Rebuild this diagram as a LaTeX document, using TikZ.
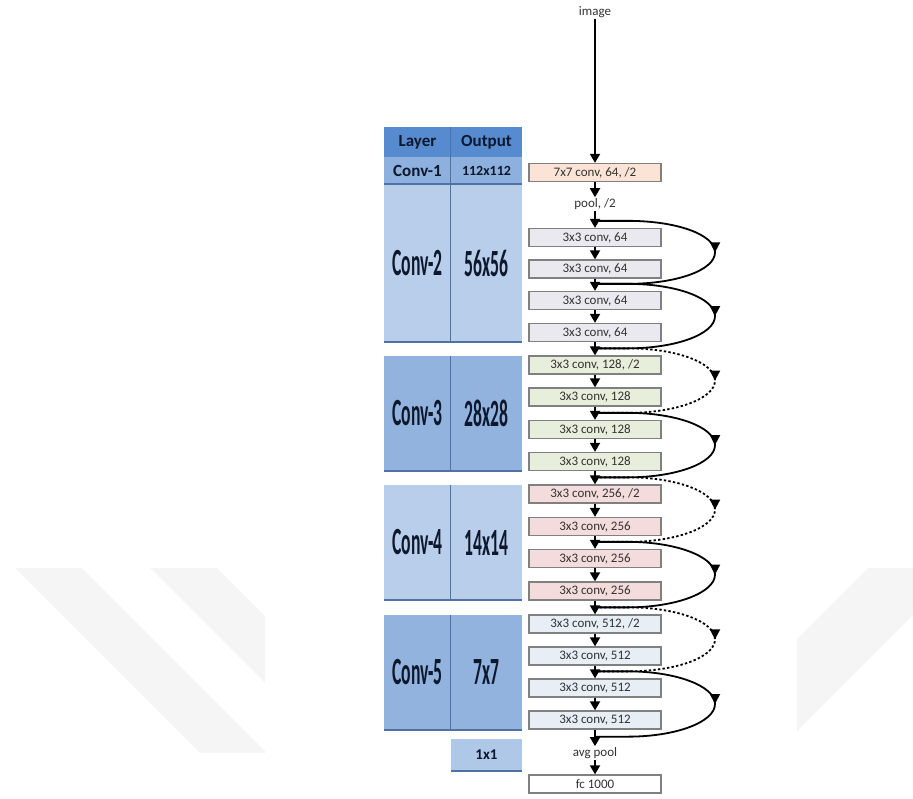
\documentclass[tikz,border=0pt]{standalone}
\usepackage{graphicx}
\usepackage{fontspec}
\setmainfont{Carlito}
\usetikzlibrary{arrows.meta, calc, decorations.markings}

\definecolor{hdrblue}{RGB}{86,139,208}
\definecolor{rowblue}{RGB}{141,176,222}
\definecolor{paleblue}{RGB}{184,206,235}
\definecolor{midblue}{RGB}{146,179,222}
\definecolor{unitblue}{RGB}{176,200,232}
\definecolor{rimblue}{RGB}{79,113,165}
\definecolor{tabtext}{RGB}{14,24,44}
\definecolor{boxline}{RGB}{128,128,128}
\definecolor{boxtext}{RGB}{50,50,50}
\definecolor{tone7}{RGB}{251,228,213}
\definecolor{tone64}{RGB}{234,233,240}
\definecolor{tone128}{RGB}{231,239,220}
\definecolor{tone256}{RGB}{243,220,219}
\definecolor{tone512}{RGB}{232,238,246}

% tall narrow lettering of the big table cells
\newcommand{\tallcell}[1]{\scalebox{.8}[1.75]{\fontsize{22}{24}\selectfont\bfseries #1}}

\tikzset{
 cell/.style={inner sep=0pt, text=tabtext, font=\bfseries\fontsize{17}{19}\selectfont},
 lcol/.style={cell, minimum width=67pt},
 ocol/.style={cell, minimum width=71pt},
 rim/.style={rimblue, line width=1.6pt},
 divider/.style={rimblue, line width=.8pt},
 convbox/.style={draw=boxline, line width=1.3pt, minimum width=132pt, minimum height=18pt,
   inner sep=0pt, text=boxtext, font=\fontsize{13}{15}\selectfont},
 lbl/.style={inner sep=1pt, text=boxtext, font=\fontsize{13}{15}\selectfont},
 flow/.style={line width=1.8pt, -{Triangle[length=9pt,width=10pt]}},
 shortcut/.style={line width=1.8pt, postaction={decorate},
   decoration={markings, mark=at position .5 with {\arrow{Triangle[length=10pt,width=10pt]}}}},
 projection/.style={shortcut, dash pattern=on 2.4pt off 2.2pt},
 wmark/.style={fill=gray!8},
}

\begin{document}
\begin{tikzpicture}[x=1pt, y=1pt]
 \useasboundingbox (0,0) rectangle (913,-798);

 % faint stripes behind
 \begin{scope}
  \clip (0,0) rectangle (265,-798);
  \fill[wmark] (15,-568) -- (82,-568) -- (267,-753) -- (200,-753) -- cycle;
  \fill[wmark] (150,-568) -- (217,-568) -- (402,-753) -- (335,-753) -- cycle;
 \end{scope}
 \begin{scope}
  \clip (797,0) rectangle (913,-798);
  \fill[wmark] (868,-568) -- (960,-568) -- (775,-753) -- (683,-753) -- cycle;
 \end{scope}

 % table
 \node[lcol, fill=hdrblue, minimum height=30pt] (l0) at (417.5,-142) {Layer};
 \node[ocol, fill=hdrblue, minimum height=30pt] (o0) at (486.5,-142) {Output};
 \node[lcol, fill=rowblue, minimum height=27pt] (l1) at (417.5,-170.5) {Conv-1};
 \node[ocol, fill=rowblue, minimum height=27pt, font=\bfseries\fontsize{14}{16}\selectfont] (o1) at (486.5,-170.5) {112x112};
 \node[lcol, fill=paleblue, minimum height=157pt] (l2) at (417.5,-263.5) {\tallcell{Conv-2}};
 \node[ocol, fill=paleblue, minimum height=157pt] (o2) at (486.5,-263.5) {\tallcell{56x56}};
 \node[lcol, fill=midblue, minimum height=115pt] (l3) at (417.5,-413.5) {\tallcell{Conv-3}};
 \node[ocol, fill=midblue, minimum height=115pt] (o3) at (486.5,-413.5) {\tallcell{28x28}};
 \node[lcol, fill=paleblue, minimum height=115pt] (l4) at (417.5,-542.5) {\tallcell{Conv-4}};
 \node[ocol, fill=paleblue, minimum height=115pt] (o4) at (486.5,-542.5) {\tallcell{14x14}};
 \node[lcol, fill=midblue, minimum height=115pt] (l5) at (417.5,-672.5) {\tallcell{Conv-5}};
 \node[ocol, fill=midblue, minimum height=115pt] (o5) at (486.5,-672.5) {\tallcell{7x7}};
 \node[ocol, fill=unitblue, minimum height=32pt, font=\bfseries\fontsize{15}{17}\selectfont] (o6) at (486.5,-755) {1x1};
 \foreach \r in {0,...,5}
  \draw[divider] (o\r.north west) -- (o\r.south west);
 \foreach \r in {1,...,5}
  \draw[rim] (l\r.south west) -- (o\r.south east);
 \draw[rim] (o6.south west) -- (o6.south east);

 % network column
 \node[lbl] (img) at (595,-12) {image};
 \node[convbox, fill=tone7] (c7) at (595,-172.5) {7x7 conv, 64, /2};
 \node[lbl] (pool) at (595,-204) {pool, /2};
 \foreach \i/\y/\f/\t in {
   1/237.5/tone64/{3x3 conv, 64}, 2/269/tone64/{3x3 conv, 64},
   3/300.5/tone64/{3x3 conv, 64}, 4/332.5/tone64/{3x3 conv, 64},
   5/365/tone128/{3x3 conv, 128, /2}, 6/397/tone128/{3x3 conv, 128},
   7/429.5/tone128/{3x3 conv, 128}, 8/461.5/tone128/{3x3 conv, 128},
   9/494/tone256/{3x3 conv, 256, /2}, 10/526.5/tone256/{3x3 conv, 256},
   11/558.5/tone256/{3x3 conv, 256}, 12/591/tone256/{3x3 conv, 256},
   13/624/tone512/{3x3 conv, 512, /2}, 14/656/tone512/{3x3 conv, 512},
   15/688/tone512/{3x3 conv, 512}, 16/720/tone512/{3x3 conv, 512}}
  \node[convbox, fill=\f] (b\i) at (595,-\y) {\t};
 \node[lbl] (avg) at (595,-753) {avg pool};
 \node[convbox, fill=white] (fc) at (595,-784) {fc 1000};

 \draw[flow] (img) -- (c7);
 \draw[flow] (c7) -- (pool);
 \draw[flow] (pool) -- (b1);
 \foreach \i [evaluate=\i as \n using int(\i+1)] in {1,...,15}
  \draw[flow] (b\i) -- (b\n);
 \draw[flow] (b16) -- (avg);
 \draw[flow] (avg) -- (fc);

 % junctions on the main line
 \foreach \k [evaluate=\k as \i using int(2*\k-1)] in {1,...,8}
  \coordinate (j\k) at ($(b\i.north)+(0,7)$);
 \coordinate (j9) at ($(b16.south)+(0,-7)$);

 % identity and projection shortcuts
 \foreach \k/\s [evaluate=\k as \n using int(\k+1)] in
   {1/shortcut, 2/shortcut, 3/projection, 4/shortcut, 5/projection, 6/shortcut, 7/projection, 8/shortcut}
  \draw[\s] (j\k) -- ($(j\k)+(33,0)$)
   .. controls ($(j\k)+(81,0)$) and ($(j\k)!.5!(j\n)+(120,18)$) .. ($(j\k)!.5!(j\n)+(120,0)$)
   .. controls ($(j\k)!.5!(j\n)+(120,-18)$) and ($(j\n)+(81,0)$) .. ($(j\n)+(33,0)$) -- (j\n);
\end{tikzpicture}
\end{document}
